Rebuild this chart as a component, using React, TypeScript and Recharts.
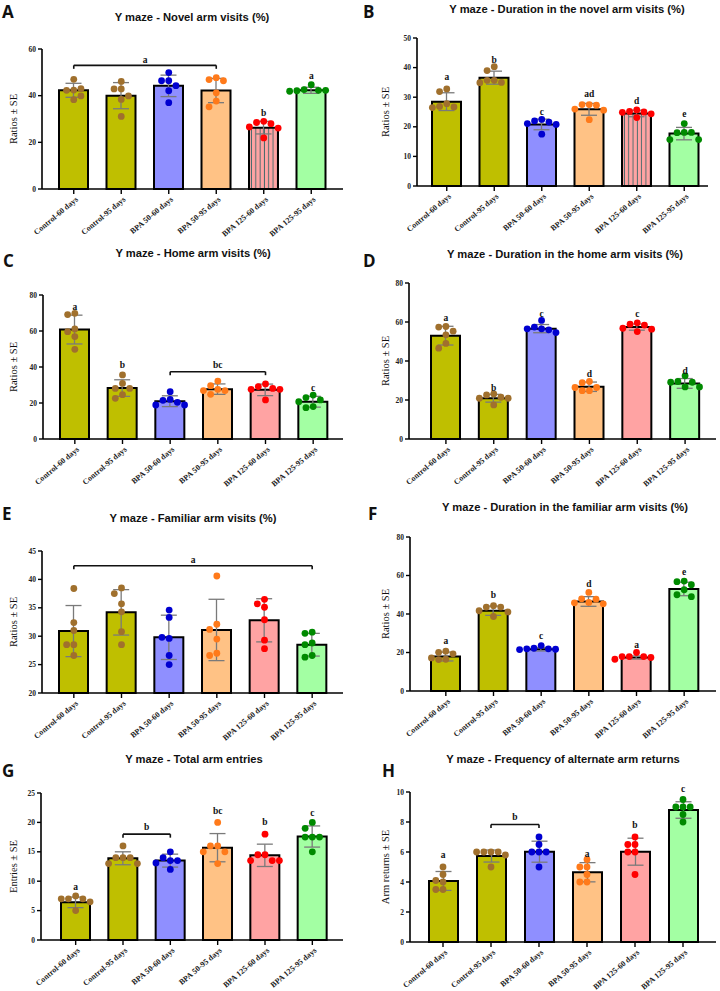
import React from 'react';
import { ComposedChart, Bar, Scatter, XAxis, YAxis, ErrorBar, Cell, ReferenceLine, ReferenceDot } from 'recharts';

const groups = ['Control-60 days', 'Control-95 days', 'BPA 50-60 days', 'BPA 50-95 days', 'BPA 125-60 days', 'BPA 125-95 days'];
const barFills = ['#bfbf00', '#bfbf00', '#8f8fff', '#ffc285', '#ffa3a3', '#a3ffa3'];
const dotFills = ['#a0702d', '#a0702d', '#0000d0', '#ff7a1a', '#ff0000', '#008a00'];

// A - novel arm visits
const novelVisitsMean = [42.3, 40.0, 44.2, 42.2, 26.3, 42.3];
const novelVisitsSe = [3.0, 5.6, 4.6, 5.2, 2.7, 1.3];
const novelVisitsDots = [
  [47, 42.4, 42.3, 43, 38.3, 39.9],
  [46.1, 42.9, 42.9, 39.9, 38.4, 31.1],
  [49.9, 46.4, 46.4, 44.3, 42.1, 37],
  [47.7, 46.9, 46.4, 41.2, 37.7, 35.2],
  [29, 28.5, 28, 26.6, 26.1, 21.9],
  [44.7, 42.6, 42.3, 42.1, 42.3, 41.9],
];
const novelVisitsTicks = [0, 20, 40, 60];
const novelVisitsLetters = [{ at: 1.5, y: 55.6, text: 'a' }, { at: 4, y: 32.7, text: 'b' }, { at: 5, y: 48.6, text: 'a' }];
const novelVisitsBrackets = [{ from: 0, to: 3, y: 53 }];

// B - duration in novel arm
const novelTimeMean = [28.5, 36.6, 20.8, 25.9, 24.5, 17.7];
const novelTimeSe = [3.0, 2.2, 1.8, 2.0, 1.1, 2.1];
const novelTimeDots = [
  [32.8, 31.9, 27.8, 26.9, 26.7, 26.5],
  [40.3, 39, 35.7, 35.7, 35, 34.9],
  [22.5, 22, 21.6, 21.1, 20.8, 17.5],
  [27.5, 27.5, 27.3, 26, 25.6, 22.4],
  [25.7, 25.2, 25, 24.9, 24.4, 23.1],
  [21.1, 18.1, 18, 18.1, 15.7, 15.7],
];
const novelTimeTicks = [0, 10, 20, 30, 40, 50];
const novelTimeLetters = [
  { at: 0, y: 36.8, text: 'a' }, { at: 1, y: 42.8, text: 'b' }, { at: 2, y: 25.2, text: 'c' },
  { at: 3, y: 31.2, text: 'ad' }, { at: 4, y: 28.9, text: 'd' }, { at: 5, y: 24.5, text: 'e' },
];

// C - home arm visits
const homeVisitsMean = [60.8, 28.3, 21.0, 27.7, 27.3, 20.7];
const homeVisitsSe = [8.0, 4.6, 3.0, 2.9, 3.2, 3.0];
const homeVisitsDots = [
  [69.8, 69.1, 61.1, 59.6, 56.9, 49.8],
  [35.6, 30.9, 28.1, 28.1, 24.6, 22.6],
  [26.3, 22, 21.5, 20.4, 18.9, 18.9],
  [32.2, 29.6, 27.6, 26.9, 26.9, 24.8],
  [30.6, 29.1, 28.1, 27.6, 27.6, 21.7],
  [24.4, 23, 21.7, 20.7, 18, 17.4],
];
const homeVisitsTicks = [0, 20, 40, 60, 80];
const homeVisitsLetters = [{ at: 0, y: 73.5, text: 'a' }, { at: 1, y: 41.1, text: 'b' }, { at: 3, y: 41.5, text: 'bc' }, { at: 5, y: 28.6, text: 'c' }];
const homeVisitsBrackets = [{ from: 2, to: 4, y: 37.4 }];

// D - duration in home arm
const homeTimeMean = [53.0, 20.9, 56.6, 26.8, 57.4, 28.5];
const homeTimeSe = [4.8, 2.0, 2.1, 2.4, 1.6, 2.5];
const homeTimeDots = [
  [57.7, 57.4, 55.3, 53.4, 49, 46.6],
  [23.1, 22.6, 21.4, 20.9, 20.9, 17.5],
  [60.8, 57.4, 56.5, 56, 56.5, 54.6],
  [29.5, 28.9, 26.4, 26.4, 24.8, 24.8],
  [59.6, 58.9, 58.4, 56.8, 56.3, 55.1],
  [32.4, 29.5, 29.1, 29.1, 26.7, 26.7],
];
const homeTimeTicks = [0, 20, 40, 60, 80];
const homeTimeLetters = [
  { at: 0, y: 62.3, text: 'a' }, { at: 1, y: 26.4, text: 'b' }, { at: 2, y: 64.5, text: 'c' },
  { at: 3, y: 33.4, text: 'd' }, { at: 4, y: 64.5, text: 'c' }, { at: 5, y: 35.2, text: 'd' },
];

// E - familiar arm visits
const familiarVisitsMean = [30.9, 34.2, 29.8, 31.1, 32.8, 28.5];
const familiarVisitsSe = [4.5, 4.0, 3.9, 5.4, 3.8, 2.0];
const familiarVisitsDots = [
  [38.4, 32.4, 31, 28.5, 28.5, 26.6],
  [38.5, 37.5, 35.7, 34.3, 30.8, 28.5],
  [34.6, 33.3, 29.6, 29.8, 26.6, 25],
  [40.6, 32.1, 31.2, 29.5, 27, 26.6],
  [36.5, 35.7, 35.1, 32.9, 29.3, 27.8],
  [30.7, 30.5, 28.8, 28.5, 26.6, 26.3],
];
const familiarVisitsTicks = [20, 25, 30, 35, 40, 45];
const familiarVisitsLetters = [{ at: 2.5, y: 43.5, text: 'a' }];
const familiarVisitsBrackets = [{ from: 0, to: 5, y: 42.4 }];

// F - duration in familiar arm
const familiarTimeMean = [17.9, 41.7, 21.7, 46.5, 17.4, 53.0];
const familiarTimeSe = [2.3, 2.4, 0.9, 2.5, 0.8, 3.5];
const familiarTimeDots = [
  [20.7, 20.1, 19.3, 17.2, 16.5, 16.3],
  [44.3, 43.6, 43.6, 41.7, 41.1, 38.7],
  [23.6, 22.2, 21.9, 21.9, 21.7, 21.5],
  [51.2, 47.9, 47.7, 46, 45.8, 45.3],
  [20, 17.9, 17.9, 17.9, 17.4, 16.5],
  [57.1, 56.8, 55.2, 52.6, 50, 49],
];
const familiarTimeTicks = [0, 20, 40, 60, 80];
const familiarTimeLetters = [
  { at: 0, y: 26, text: 'a' }, { at: 1, y: 50.3, text: 'b' }, { at: 2, y: 28.8, text: 'c' },
  { at: 3, y: 55.6, text: 'd' }, { at: 4, y: 24.3, text: 'a' }, { at: 5, y: 62.2, text: 'e' },
];

// G - total arm entries
const entriesMean = [6.4, 13.9, 13.5, 15.7, 14.4, 17.6];
const entriesSe = [0.9, 1.1, 1.1, 2.4, 1.9, 1.8];
const entriesDots = [
  [7.5, 7, 7, 7, 6.5, 5],
  [16, 14, 14, 14, 13, 13],
  [15, 14, 13.5, 13.5, 13.1, 12],
  [20, 16, 16, 15, 15, 13],
  [18, 14.5, 14.5, 13.5, 13.5, 13.5],
  [20, 19, 17.5, 17.5, 17.5, 15],
];
const entriesTicks = [0, 5, 10, 15, 20, 25];
const entriesLetters = [
  { at: 0, y: 9.1, text: 'a' }, { at: 1.5, y: 19.3, text: 'b' }, { at: 3, y: 22, text: 'bc' },
  { at: 4, y: 20.2, text: 'b' }, { at: 5, y: 21.6, text: 'c' },
];
const entriesBrackets = [{ from: 1, to: 2, y: 18 }];

// H - alternate arm returns
const returnsMean = [4.07, 5.73, 6.02, 4.65, 6.02, 8.8];
const returnsSe = [0.63, 0.4, 0.7, 0.64, 0.9, 0.55];
const returnsDots = [
  [5, 4.5, 4.1, 4, 3.5, 3.5],
  [6, 6, 6, 6, 5.8, 5],
  [7, 6.5, 6, 6, 6, 5],
  [5.5, 5, 5, 4.5, 4, 4],
  [7, 6.5, 6.5, 6, 6, 4.5],
  [9.5, 9, 9, 9, 8.5, 8],
];
const returnsTicks = [0, 2, 4, 6, 8, 10];
const returnsLetters = [
  { at: 0, y: 5.84, text: 'a' }, { at: 1.5, y: 8.34, text: 'b' }, { at: 3, y: 5.9, text: 'a' },
  { at: 4, y: 7.83, text: 'b' }, { at: 5, y: 10.2, text: 'c' },
];
const returnsBrackets = [{ from: 1, to: 2, y: 7.83 }];

const serif = '"Liberation Serif", "Times New Roman", serif';
const sans = '"Liberation Sans", Arial, sans-serif';

// spread dots sideways when they would overlap, like a scatter dot plot
function swarm(values: number[], unitPx: number, bandPx: number) {
  const gap = 7.2;
  const placed: { dx: number; dy: number }[] = [];
  return values.map((v) => {
    const dy = v * unitPx;
    for (let k = 0; k < 20; k++) {
      const dx = k === 0 ? 0 : (k % 2 === 1 ? -1 : 1) * Math.ceil(k / 2) * gap;
      if (placed.every((p) => Math.hypot(p.dx - dx, p.dy - dy) >= gap)) {
        placed.push({ dx, dy });
        return dx / bandPx;
      }
    }
    return 0;
  });
}

function GroupTick(props: any) {
  const { x, y, payload } = props;
  const ax = x + 3;
  const ay = y + 2;
  return (
    <text x={ax} y={ay} dy="0.35em" transform={`rotate(-40 ${ax} ${ay})`} textAnchor="end"
      fontFamily={serif} fontWeight="bold" fontSize={8} fill="#222">
      {payload.value}
    </text>
  );
}

function DotShape(props: any) {
  const { cx, cy, payload } = props;
  return <circle cx={cx} cy={cy} r={3.4} fill={dotFills[payload.g]} />;
}

interface PanelDef {
  tag: string;
  title: string;
  yLabel: string;
  mean: number[];
  se: number[];
  dots: number[][];
  ticks: number[];
  letters: { at: number; y: number; text: string }[];
  brackets: { from: number; to: number; y: number }[];
  striped?: boolean;
  box: { x: number; y: number; h: number };
  plot: { l: number; r: number; t: number; b: number };
  pad: { left: number; right: number };
  titleAt: { x: number; y: number };
  tagAt: { x: number; y: number };
  yLabelX: number;
}

const panels: PanelDef[] = [
  {
    tag: 'A', title: 'Y maze - Novel arm visits (%)', yLabel: 'Ratios ± SE',
    mean: novelVisitsMean, se: novelVisitsSe, dots: novelVisitsDots, ticks: novelVisitsTicks,
    letters: novelVisitsLetters, brackets: novelVisitsBrackets, striped: true,
    box: { x: 0, y: 0, h: 245 }, plot: { l: 42, r: 343, t: 49, b: 189 }, pad: { left: 8, right: 8 },
    titleAt: { x: 192, y: 17 }, tagAt: { x: 2, y: 18 }, yLabelX: 13,
  },
  {
    tag: 'B', title: 'Y maze - Duration in the novel arm visits (%)', yLabel: 'Ratios ± SE',
    mean: novelTimeMean, se: novelTimeSe, dots: novelTimeDots, ticks: novelTimeTicks,
    letters: novelTimeLetters, brackets: [], striped: true,
    box: { x: 360, y: 0, h: 245 }, plot: { l: 417, r: 708, t: 38, b: 186 }, pad: { left: 6, right: 0 },
    titleAt: { x: 567, y: 9 }, tagAt: { x: 363, y: 18 }, yLabelX: 25,
  },
  {
    tag: 'C', title: 'Y maze - Home arm visits (%)', yLabel: 'Ratios ± SE',
    mean: homeVisitsMean, se: homeVisitsSe, dots: homeVisitsDots, ticks: homeVisitsTicks,
    letters: homeVisitsLetters, brackets: homeVisitsBrackets,
    box: { x: 0, y: 245, h: 240 }, plot: { l: 43, r: 343, t: 295, b: 439 }, pad: { left: 8, right: 6 },
    titleAt: { x: 193, y: 253 }, tagAt: { x: 3, y: 267 }, yLabelX: 13,
  },
  {
    tag: 'D', title: 'Y maze - Duration in the home arm visits (%)', yLabel: 'Ratios ± SE',
    mean: homeTimeMean, se: homeTimeSe, dots: homeTimeDots, ticks: homeTimeTicks,
    letters: homeTimeLetters, brackets: [],
    box: { x: 360, y: 245, h: 240 }, plot: { l: 409, r: 716, t: 283, b: 439 }, pad: { left: 13, right: 7 },
    titleAt: { x: 565, y: 254 }, tagAt: { x: 363, y: 267 }, yLabelX: 25,
  },
  {
    tag: 'E', title: 'Y maze - Familiar arm visits (%)', yLabel: 'Ratios ± SE',
    mean: familiarVisitsMean, se: familiarVisitsSe, dots: familiarVisitsDots, ticks: familiarVisitsTicks,
    letters: familiarVisitsLetters, brackets: familiarVisitsBrackets,
    box: { x: 0, y: 485, h: 250 }, plot: { l: 42, r: 343, t: 551, b: 693 }, pad: { left: 8, right: 7 },
    titleAt: { x: 193, y: 518 }, tagAt: { x: 2, y: 520 }, yLabelX: 13,
  },
  {
    tag: 'F', title: 'Y maze - Duration in the familiar arm visits (%)', yLabel: 'Ratios ± SE',
    mean: familiarTimeMean, se: familiarTimeSe, dots: familiarTimeDots, ticks: familiarTimeTicks,
    letters: familiarTimeLetters, brackets: [],
    box: { x: 360, y: 485, h: 250 }, plot: { l: 410, r: 716, t: 537, b: 691 }, pad: { left: 12, right: 8 },
    titleAt: { x: 565, y: 507 }, tagAt: { x: 368, y: 520 }, yLabelX: 25,
  },
  {
    tag: 'G', title: 'Y maze - Total arm entries', yLabel: 'Entries ± SE',
    mean: entriesMean, se: entriesSe, dots: entriesDots, ticks: entriesTicks,
    letters: entriesLetters, brackets: entriesBrackets,
    box: { x: 0, y: 735, h: 256 }, plot: { l: 41, r: 343, t: 793, b: 940 }, pad: { left: 11, right: 7 },
    titleAt: { x: 194, y: 759 }, tagAt: { x: 2, y: 777 }, yLabelX: 13,
  },
  {
    tag: 'H', title: 'Y maze - Frequency of alternate arm returns', yLabel: 'Arm returns ± SE',
    mean: returnsMean, se: returnsSe, dots: returnsDots, ticks: returnsTicks,
    letters: returnsLetters, brackets: returnsBrackets,
    box: { x: 360, y: 735, h: 256 }, plot: { l: 410, r: 716, t: 792, b: 942 }, pad: { left: 9, right: 9 },
    titleAt: { x: 563, y: 759 }, tagAt: { x: 382, y: 777 }, yLabelX: 25,
  },
];

function Panel({ p }: { p: PanelDef }) {
  const { box, plot, pad } = p;
  const width = 360;
  const spill = 30; // room for the slanted labels below the panel
  const lo = p.ticks[0];
  const hi = p.ticks[p.ticks.length - 1];
  const unitPx = (plot.b - plot.t) / (hi - lo);
  const bandPx = (plot.r - plot.l - pad.left - pad.right) / groups.length;
  const bars = groups.map((name, i) => ({ name, mean: p.mean[i], se: p.se[i] }));
  const points = p.dots.flatMap((vals, g) => swarm(vals, unitPx, bandPx).map((off, k) => ({ x: g + off, y: vals[k], g })));
  const drop = 3.5 / unitPx;
  const line = { stroke: '#111', strokeWidth: 1.6 };
  return (
    <div style={{ position: 'absolute', left: box.x, top: box.y }}>
      <ComposedChart width={width} height={box.h + spill} data={bars}
        margin={{ top: plot.t - box.y, right: box.x + width - plot.r, bottom: spill, left: 0 }}>
        <XAxis dataKey="name" type="category" height={box.y + box.h - plot.b} padding={pad} interval={0}
          tick={<GroupTick />} tickSize={5} axisLine={{ stroke: '#000', strokeWidth: 1.6 }} tickLine={{ stroke: '#000', strokeWidth: 1.4 }} />
        <XAxis xAxisId="n" dataKey="x" type="number" domain={[-0.5, 5.5]} padding={pad} hide allowDataOverflow />
        <YAxis width={plot.l - box.x} domain={[lo, hi]} ticks={p.ticks} interval={0} tickSize={4}
          axisLine={{ stroke: '#000', strokeWidth: 1.6 }} tickLine={{ stroke: '#000', strokeWidth: 1.4 }}
          tick={{ fontSize: 7.5, fontWeight: 'bold', fontFamily: serif, fill: '#222' }}
          label={{ value: p.yLabel, angle: -90, position: 'insideLeft', offset: p.yLabelX, fontSize: 10.5, fontFamily: serif, fill: '#111', style: { textAnchor: 'middle' } }} />
        <Bar dataKey="mean" barSize={29} stroke="#000" strokeWidth={2} isAnimationActive={false}>
          {bars.map((_, i) => (
            <Cell key={i} fill={p.striped && i === 4 ? 'url(#pinkStripes)' : barFills[i]} />
          ))}
          <ErrorBar dataKey="se" width={8} stroke="#7a7a7a" strokeWidth={1.3} />
        </Bar>
        <Scatter xAxisId="n" data={points} dataKey="y" shape={<DotShape />} isAnimationActive={false} />
        {p.brackets.map((b, i) => [
          <ReferenceLine key={`h${i}`} xAxisId="n" segment={[{ x: b.from, y: b.y }, { x: b.to, y: b.y }]} ifOverflow="visible" {...line} />,
          <ReferenceLine key={`l${i}`} xAxisId="n" segment={[{ x: b.from, y: b.y }, { x: b.from, y: b.y - drop }]} ifOverflow="visible" {...line} />,
          <ReferenceLine key={`r${i}`} xAxisId="n" segment={[{ x: b.to, y: b.y }, { x: b.to, y: b.y - drop }]} ifOverflow="visible" {...line} />,
        ])}
        {p.letters.map((l, i) => (
          <ReferenceDot key={`t${i}`} xAxisId="n" x={l.at} y={l.y} r={0} fill="none" stroke="none" ifOverflow="visible"
            label={{ value: l.text, position: 'center', fontSize: 9.5, fontWeight: 'bold', fontFamily: serif, fill: '#111' }} />
        ))}
      </ComposedChart>
    </div>
  );
}

export default function App() {
  return (
    <div style={{ position: 'absolute', left: 0, top: 0, width: 720, height: 991, background: '#fff', overflow: 'hidden' }}>
      <svg width={0} height={0} style={{ position: 'absolute' }}>
        <defs>
          <pattern id="pinkStripes" patternUnits="userSpaceOnUse" width={4.3} height={10}>
            <rect width={4.3} height={10} fill="#ffa3a3" />
            <line x1={2.1} y1={0} x2={2.1} y2={10} stroke="#3a6868" strokeWidth={0.9} />
          </pattern>
        </defs>
      </svg>
      {panels.map((p) => (
        <Panel key={p.tag} p={p} />
      ))}
      <svg width={720} height={991} style={{ position: 'absolute', left: 0, top: 0, pointerEvents: 'none' }}>
        {panels.map((p) => (
          <g key={p.tag}>
            <text x={p.tagAt.x} y={p.tagAt.y} fontFamily='"Open Sans", sans-serif' fontWeight={700} fontSize={17} fill="#111">{p.tag}</text>
            <text x={p.titleAt.x} y={p.titleAt.y} dy="0.35em" textAnchor="middle" fontFamily={sans} fontWeight="bold" fontSize={11.2} fill="#111">{p.title}</text>
          </g>
        ))}
      </svg>
    </div>
  );
}
